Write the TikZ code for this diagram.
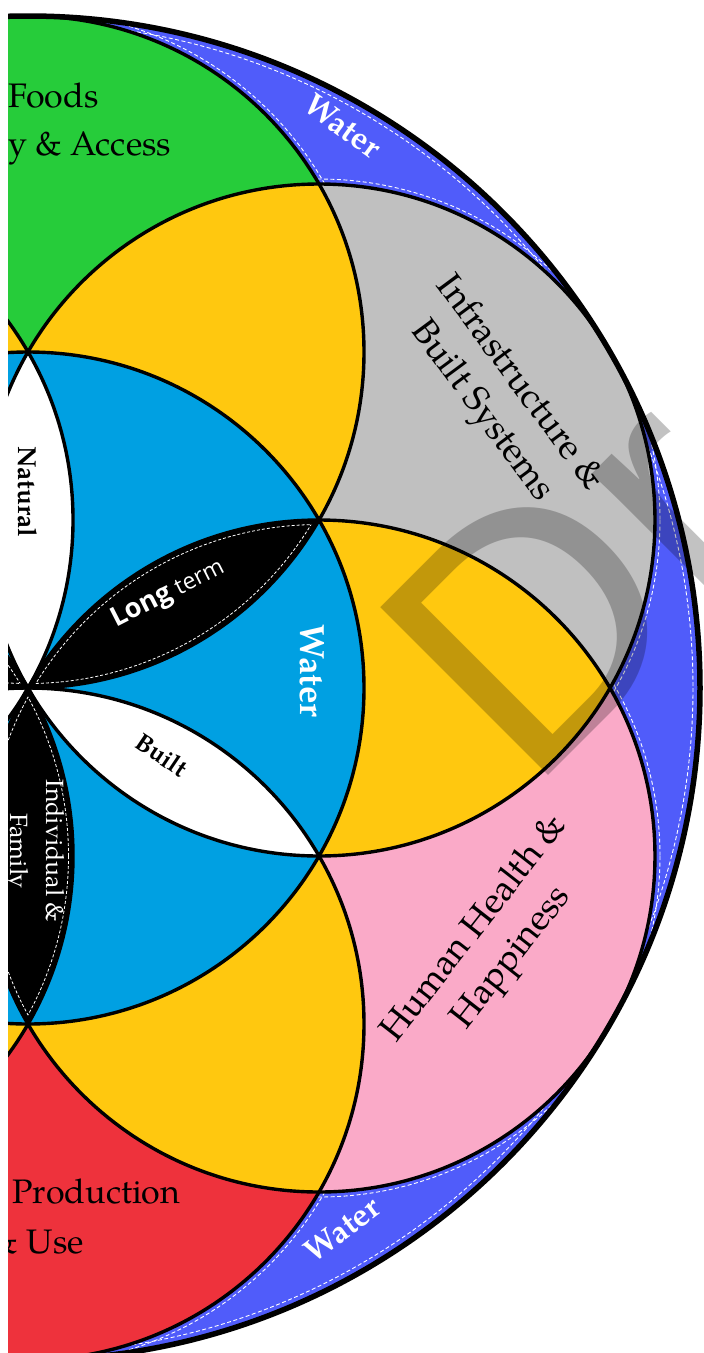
\documentclass[tikz,border=0pt]{standalone}
\usepackage{fontspec}
\setmainfont{texgyrepagella-regular.otf}[BoldFont=texgyrepagella-bold.otf]
\newfontfamily\opensans{Open Sans}
\newfontfamily\wmfont{Liberation Sans}
\definecolor{cgreen}{RGB}{38,204,58}
\definecolor{cyellow}{RGB}{255,200,15}
\definecolor{cgrey}{RGB}{192,192,192}
\definecolor{cpink}{RGB}{250,170,200}
\definecolor{cred}{RGB}{238,50,60}
\definecolor{cblue}{RGB}{0,160,226}
\definecolor{cband}{RGB}{80,92,250}
\definecolor{cother}{RGB}{240,150,40}
\newcommand\myLens[3]{\begin{scope}\clip (#1) circle[radius=336];\fill[#3] (#2) circle[radius=336];\end{scope}}
\newcommand\myLensDash[2]{%
  \begin{scope}\clip (#1) circle[radius=331.5];\draw[petaldash] (#2) circle[radius=331.5];\end{scope}%
  \begin{scope}\clip (#2) circle[radius=331.5];\draw[petaldash] (#1) circle[radius=331.5];\end{scope}}
\begin{document}
\begin{tikzpicture}[x=1pt,y=-1pt,
  ring/.style={draw=black,line width=3.4},
  petaldash/.style={draw=white,line width=0.8,dash pattern=on 3pt off 2pt},
  banddash/.style={draw=white,line width=0.9,dash pattern=on 4pt off 2.5pt},
  biglabel/.style={font=\fontsize{36}{47}\selectfont,align=center,inner sep=0},
  sidelabel/.style={font=\fontsize{34}{48}\selectfont,inner sep=0},
  wlabel/.style={text=white,font=\bfseries\fontsize{32}{32}\selectfont,inner sep=0}]
\useasboundingbox (0,0) rectangle (704,1353);
\coordinate (O) at (28,688);
\coordinate (Q30) at (318.98,520);
\coordinate (Q90) at (28,352);
\coordinate (Q150) at (-262.98,520);
\coordinate (Q210) at (-262.98,856);
\coordinate (Q270) at (28,1024);
\coordinate (Q330) at (318.98,856);
\begin{scope}
\clip (8,0) rectangle (704,1353);
% outer water band
\fill[cband] (O) circle[radius=672];
\begin{scope}
\clip (O) circle[radius=672];
\draw[banddash] (O) circle[radius=665];
\foreach \q in {Q30,Q90,Q150,Q210,Q270,Q330}{\draw[banddash] (\q) circle[radius=341];}
\end{scope}
% outer circles
\fill[cgrey] (Q30) circle[radius=336];
\fill[cgreen] (Q90) circle[radius=336];
\fill[cother] (Q150) circle[radius=336];
\fill[cother] (Q210) circle[radius=336];
\fill[cred] (Q270) circle[radius=336];
\fill[cpink] (Q330) circle[radius=336];
% yellow overlaps
\myLens{Q30}{Q90}{cyellow}
\myLens{Q90}{Q150}{cyellow}
\myLens{Q150}{Q210}{cyellow}
\myLens{Q210}{Q270}{cyellow}
\myLens{Q270}{Q330}{cyellow}
\myLens{Q330}{Q30}{cyellow}
% central circle
\fill[cblue] (O) circle[radius=336];
% petals
\myLens{Q330}{Q90}{black}
\myLens{Q30}{Q150}{white}
\myLens{Q90}{Q210}{black}
\myLens{Q150}{Q270}{white}
\myLens{Q210}{Q330}{black}
\myLens{Q270}{Q30}{white}
\myLensDash{Q330}{Q90}
\myLensDash{Q90}{Q210}
\myLensDash{Q210}{Q330}
% outlines
\foreach \q in {O,Q30,Q90,Q150,Q210,Q270,Q330}{\draw[ring] (\q) circle[radius=336];}
\draw[black,line width=5.5] (O) circle[radius=672];
% labels
\node[sidelabel,anchor=base west] (foods) at (8,107) {Foods};
\node[sidelabel,anchor=base west] (access) at (8,155) {y \& Access};
\node[sidelabel,anchor=base west] (prod) at (12,1203) {Production};
\node[sidelabel,anchor=base east] (use) at (84,1253) {\& Use};
\node[biglabel,rotate=-53.5] (infra) at (500,398) {Infrastructure \&\\Built Systems};
\node[biglabel,rotate=52] (health) at (494,944) {Human Health \&\\Happiness};
\node[font=\bfseries\fontsize{26}{26}\selectfont,rotate=-90,inner sep=0] (natural) at (28,492) {Natural};
\node[text=white,font=\fontsize{25}{36}\selectfont,rotate=-90,align=center,inner sep=0] (indiv) at (34,851) {Individual \&\\Family};
\node[text=white,rotate=27,inner sep=0] (long) at (168,594) {\opensans{\bfseries\fontsize{27}{27}\selectfont Long}\fontsize{23}{27}\selectfont\ term};
\node[font=\bfseries\fontsize{25}{25}\selectfont,rotate=-34,inner sep=0] (built) at (162,755) {Built};
\node[text=white,font=\bfseries\fontsize{35}{35}\selectfont,rotate=-90,inner sep=0] (water) at (312,671) {Water};
\node[wlabel,rotate=-36] (wtop) at (343,126) {Water};
\node[wlabel,rotate=37] (wbot) at (342,1229) {Water};
% watermark
\node[font=\wmfont\fontsize{345}{345}\selectfont,text=black,text opacity=0.24,inner sep=0,anchor=base west,rotate=45] (wm) at (528,796) {Dr};
\end{scope}
\end{tikzpicture}
\end{document}
